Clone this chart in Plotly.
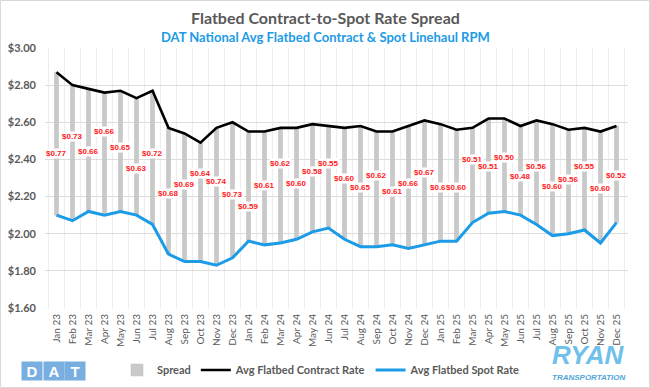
import plotly.graph_objects as go

months = ["Jan 23", "Feb 23", "Mar 23", "Apr 23", "May 23", "Jun 23", "Jul 23", "Aug 23",
          "Sep 23", "Oct 23", "Nov 23", "Dec 23", "Jan 24", "Feb 24", "Mar 24", "Apr 24",
          "May 24", "Jun 24", "Jul 24", "Aug 24", "Sep 24", "Oct 24", "Nov 24", "Dec 24",
          "Jan 25", "Feb 25", "Mar 25", "Apr 25", "May 25", "Jun 25", "Jul 25", "Aug 25",
          "Sep 25", "Oct 25", "Nov 25", "Dec 25"]

contract_rate = [2.87, 2.80, 2.78, 2.76, 2.77, 2.73, 2.77, 2.57, 2.54, 2.49, 2.57, 2.60,
                 2.55, 2.55, 2.57, 2.57, 2.59, 2.58, 2.57, 2.58, 2.55, 2.55, 2.58, 2.61,
                 2.59, 2.56, 2.57, 2.62, 2.62, 2.58, 2.61, 2.59, 2.56, 2.57, 2.55, 2.58]

spot_rate = [2.10, 2.07, 2.12, 2.10, 2.12, 2.10, 2.05, 1.89, 1.85, 1.85, 1.83, 1.87,
             1.96, 1.94, 1.95, 1.97, 2.01, 2.03, 1.97, 1.93, 1.93, 1.94, 1.92, 1.94,
             1.96, 1.96, 2.06, 2.11, 2.12, 2.10, 2.05, 1.99, 2.00, 2.02, 1.95, 2.06]

spread = [round(c - s, 2) for c, s in zip(contract_rate, spot_rate)]

# styling: relative height of each hand-placed data label within its bar
label_frac = [0.43, 0.62, 0.49, 0.68, 0.53, 0.40, 0.53, 0.48, 0.60, 0.74, 0.61, 0.47,
              0.32, 0.52, 0.69, 0.50, 0.56, 0.63, 0.55, 0.49, 0.62, 0.47, 0.53, 0.58,
              0.46, 0.48, 0.67, 0.49, 0.58, 0.43, 0.56, 0.44, 0.52, 0.62, 0.49, 0.49]

GREY_TXT = "#595959"
BLUE = "#1C9BE6"
FONT = "Lato"

fig = go.Figure()
fig.add_trace(go.Bar(
    x=months, y=spread, base=spot_rate, name="Spread", width=0.25,
    marker=dict(color="#C9C9C9", line=dict(color="#BDBDBD", width=0.5)),
    hoverinfo="skip",
))
fig.add_trace(go.Scatter(
    x=months, y=contract_rate, name="Avg Flatbed Contract Rate", mode="lines",
    line=dict(color="#000000", width=2.6),
))
fig.add_trace(go.Scatter(
    x=months, y=spot_rate, name="Avg Flatbed Spot Rate", mode="lines",
    line=dict(color=BLUE, width=3),
))

for m, s, sp, f in zip(months, spot_rate, spread, label_frac):
    fig.add_annotation(
        x=m, y=s + sp * f, text=f"${sp:.2f}", showarrow=False,
        xanchor="center", yanchor="middle",
        font=dict(family="Liberation Sans", size=8, color="#FF1A1A", weight="bold"),
        bgcolor="white", borderpad=0,
    )

W, H = 650, 388
ml, mr, mt, mb = 45, 22, 48, 80
pw, ph = W - ml - mr, H - mt - mb

def px(x):
    return (x - ml) / pw

def py(y):
    return (H - mb - y) / ph

def note(x, y, text, **font):
    fig.add_annotation(xref="paper", yref="paper", x=px(x), y=py(y), showarrow=False,
                       xanchor="center", yanchor="middle", text=text, font=font)

# titles
note(325, 18, "<b>Flatbed Contract-to-Spot Rate Spread</b>", family=FONT, size=16, color=GREY_TXT)
note(325, 37, "<b>DAT National Avg Flatbed Contract & Spot Linehaul RPM</b>",
     family=FONT, size=13, color=BLUE)

# DAT logo
for i, letter in enumerate(["D", "A", "T"]):
    fig.add_annotation(xref="paper", yref="paper", x=px(32 + i * 21.5), y=py(371),
                       showarrow=False, xanchor="center", yanchor="middle",
                       text=f"<b>{letter}</b>", width=20, height=18, bgcolor="#78AEE0",
                       borderpad=0, align="center", valign="middle",
                       font=dict(family="Liberation Sans", size=15, color="white"))

# RYAN logo
note(588, 355, "<b><i>RYAN</i></b>", family="Liberation Sans", size=26, color="#6FC0EA")
note(589, 377, "<b><i>TRANSPORTATION</i></b>", family="Liberation Sans", size=8, color="#4FA6DA")

# outer border
fig.add_shape(type="rect", xref="paper", yref="paper",
              x0=px(0.5), x1=px(W - 0.5), y0=py(H - 0.5), y1=py(0.5),
              line=dict(color="#D9D9D9", width=1), fillcolor="rgba(0,0,0,0)")

fig.update_layout(
    width=W, height=H,
    margin=dict(l=ml, r=mr, t=mt, b=mb, autoexpand=False),
    paper_bgcolor="white", plot_bgcolor="white",
    barmode="overlay",
    font=dict(family=FONT, color=GREY_TXT),
    showlegend=True,
    legend=dict(orientation="h", x=px(117), y=py(370), xanchor="left", yanchor="middle",
                font=dict(family=FONT, size=11, color=GREY_TXT, weight="bold"),
                itemwidth=30, tracegroupgap=0, bgcolor="rgba(0,0,0,0)"),
    xaxis=dict(type="category", tickangle=-90, tickson="boundaries", automargin=False,
               showgrid=True, gridcolor="#EDEDED", gridwidth=1,
               ticks="", showline=False, zeroline=False, ticklabelstandoff=3,
               tickfont=dict(family=FONT, size=10, color=GREY_TXT)),
    yaxis=dict(range=[1.6, 3.0], dtick=0.2, tickformat="$.2f", automargin=False,
               showgrid=True, gridcolor="#DDDDDD", gridwidth=1, ticklabelstandoff=8,
               zeroline=False, showline=False, ticks="",
               tickfont=dict(family=FONT, size=11, color=GREY_TXT, weight="bold")),
)

fig.write_html("out.html", config={"displayModeBar": False},
               post_script="document.body.style.margin='0px';document.body.style.overflow='hidden';")
